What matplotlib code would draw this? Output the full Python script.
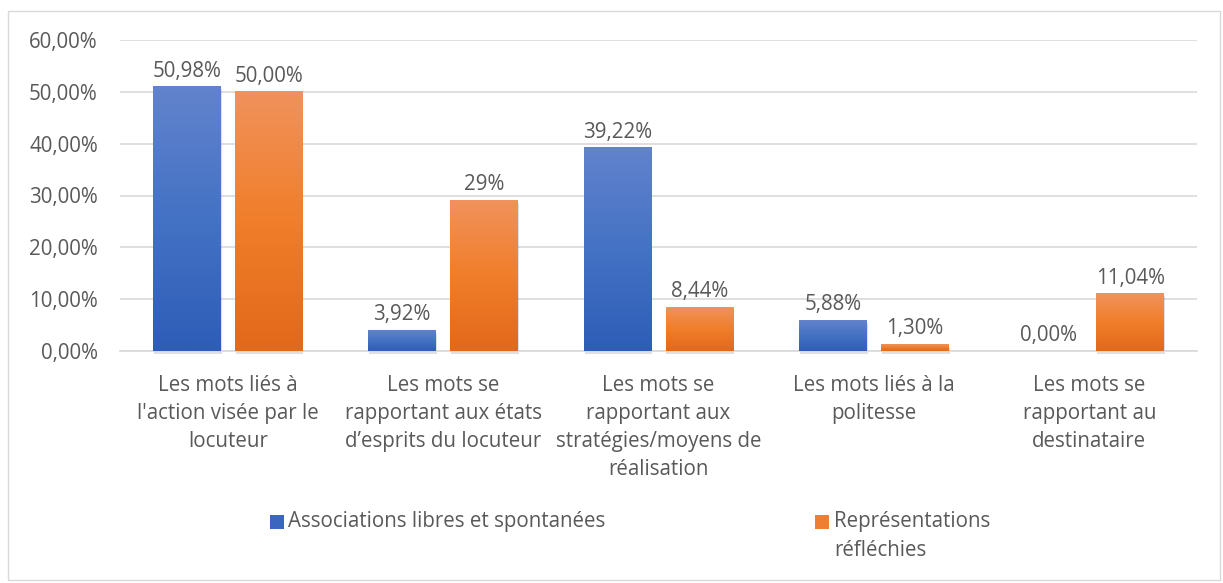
import matplotlib
matplotlib.use("Agg")
import matplotlib.pyplot as plt
import numpy as np
from matplotlib.colors import LinearSegmentedColormap
from matplotlib.patches import Rectangle

categories = ["Les mots liés à\nl'action visée par le\nlocuteur",
              "Les mots se\nrapportant aux états\nd’esprits du locuteur",
              "Les mots se\nrapportant aux\nstratégies/moyens de\nréalisation",
              "Les mots liés à la\npolitesse",
              "Les mots se\nrapportant au\ndestinataire"]
series_names = ["Associations libres et spontanées", "Représentations\nréfléchies"]
assoc = [50.98, 3.92, 39.22, 5.88, 0.00]
repres = [50.00, 29.10, 8.44, 1.30, 11.04]
assoc_labels = ["50,98%", "3,92%", "39,22%", "5,88%", "0,00%"]
repres_labels = ["50,00%", "29%", "8,44%", "1,30%", "11,04%"]
yticks = [0, 10, 20, 30, 40, 50, 60]
ytick_labels = ["0,00%", "10,00%", "20,00%", "30,00%", "40,00%", "50,00%", "60,00%"]

plt.rcParams['font.family'] = ['Open Sans', 'DejaVu Sans']
txt = "#595959"
FS = 14.8
fig = plt.figure(figsize=(12.23, 5.83), dpi=100)
fig.patches.append(Rectangle((8/1223, 3/583), 1212/1223, 569/583, transform=fig.transFigure,
                             fill=False, edgecolor="#D9D9D9", lw=1))
ax = fig.add_axes([120/1223, 1-351/583, 1077/1223, 311/583])
ax.set_xlim(-0.5, 4.5)
ax.set_ylim(0, 60)

blue_cmap = LinearSegmentedColormap.from_list("b", ["#2E5DB8", "#4472C4", "#6283CD"])
orange_cmap = LinearSegmentedColormap.from_list("o", ["#E2681A", "#F07E2A", "#F1925C"])
w = 0.315
off = 0.19
grad = np.linspace(0, 1, 256).reshape(-1, 1)
for vals, sign, cmap, labs in [(assoc, -1, blue_cmap, assoc_labels), (repres, 1, orange_cmap, repres_labels)]:
    xs = np.arange(len(vals)) + sign * off
    bars = ax.bar(xs, vals, width=w, color="none", zorder=3)
    for b, v, lab in zip(bars, vals, labs):
        x0 = b.get_x()
        if v > 0:
            ax.add_patch(Rectangle((x0 + 0.004, -0.5), w, v, facecolor="#000000", alpha=0.12,
                                   zorder=2, lw=0, clip_on=False))
            ax.imshow(grad, extent=[x0, x0 + w, 0, v], origin="lower", cmap=cmap,
                      aspect="auto", zorder=3)
        ax.text(b.get_x() + w / 2, v + 1.0, lab, ha="center", va="bottom",
                fontsize=FS, color=txt, zorder=5)
ax.set_xlim(-0.5, 4.5)
ax.set_ylim(0, 60)

ax.set_yticks(yticks)
ax.set_yticklabels(ytick_labels, fontsize=FS, color=txt)
ax.set_xticks(range(len(categories)))
ax.set_xticklabels(categories, fontsize=FS, color=txt, linespacing=1.45, va="top")
ax.tick_params(axis="both", length=0)
ax.tick_params(axis="y", pad=16)
ax.tick_params(axis="x", pad=17)
ax.grid(axis="y", color="#D9D9D9", lw=1.2, zorder=0)
for s in ["top", "right", "left"]:
    ax.spines[s].set_visible(False)
ax.spines["bottom"].set_color("#D9D9D9")
ax.spines["bottom"].set_linewidth(1.2)

# legend
fig.patches.append(Rectangle((270/1223, 1-529/583), 14/1223, 14/583, transform=fig.transFigure,
                             facecolor="#3A66BF", edgecolor="none"))
fig.text(288/1223, 1-521/583, series_names[0], fontsize=FS, color=txt, va="center")
fig.patches.append(Rectangle((815/1223, 1-529/583), 14/1223, 14/583, transform=fig.transFigure,
                             facecolor="#EF7E33", edgecolor="none"))
fig.text(834/1223, 1-521/583, series_names[1].split("\n")[0], fontsize=FS, color=txt, va="center")
fig.text(834/1223, 1-550/583, series_names[1].split("\n")[1], fontsize=FS, color=txt, va="center")

fig.savefig("out.png", dpi=100)
